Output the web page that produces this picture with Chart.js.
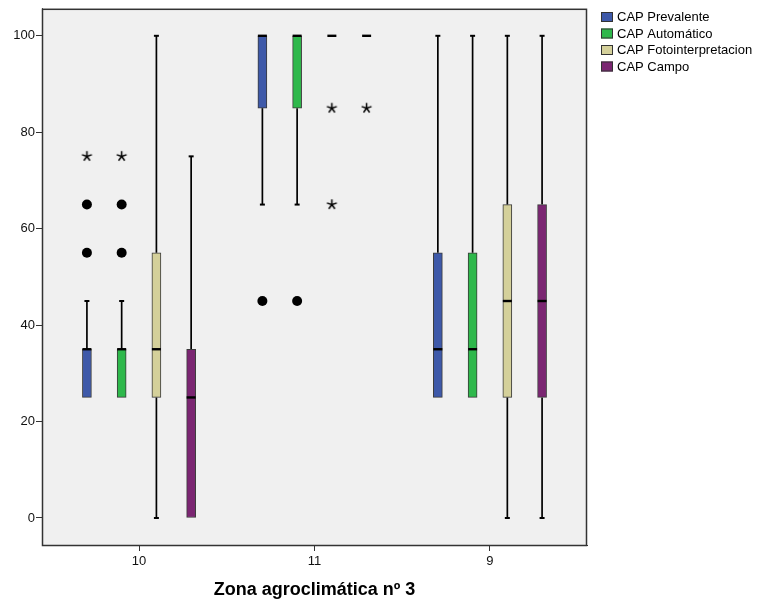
<!DOCTYPE html>
<html>
<head>
<meta charset="utf-8">
<script src="https://cdn.jsdelivr.net/npm/chart.js@4.4.0/dist/chart.umd.min.js"></script>
<style>
  html, body { margin: 0; padding: 0; background: #fff; }
</style>
</head>
<body>
<canvas id="chart" width="758" height="605"></canvas>
<script>
// zones on the x axis
const categories = ['10', '11', '9'];
const seriesNames = ['CAP Prevalente', 'CAP Automático', 'CAP Fotointerpretacion', 'CAP Campo'];
const seriesColors = ['#3E59A9', '#2EB84B', '#D4D09A', '#7B2672'];

// one row per series, one value per zone
const q1 = [[25, 85, 25], [25, 85, 25], [25, 100, 25], [0, 100, 25]];
const medians = [[35, 100, 35], [35, 100, 35], [35, 100, 45], [25, 100, 45]];
const q3 = [[35, 100, 55], [35, 100, 55], [55, 100, 65], [35, 100, 65]];
const whiskerLow = [[25, 65, 25], [25, 65, 25], [0, 100, 0], [0, 100, 0]];
const whiskerHigh = [[45, 100, 100], [45, 100, 100], [100, 100, 100], [75, 100, 100]];
// circles (outliers) and stars (extremes)
const outliers = [[[55, 65], [45], []], [[55, 65], [45], []], [[], [], []], [[], [], []]];
const extremes = [[[75], [], []], [[75], [], []], [[], [85, 65], []], [[], [85], []]];

const yTicks = [0, 20, 40, 60, 80, 100];
const offsets = [-0.297, -0.099, 0.099, 0.297];

// five-armed asterisk used by SPSS for extremes
function makeStar() {
  const c = document.createElement('canvas');
  c.width = 13; c.height = 13;
  const g = c.getContext('2d');
  g.strokeStyle = '#000';
  g.lineWidth = 1.5;
  g.beginPath();
  for (let k = 0; k < 5; k++) {
    const a = -Math.PI / 2 + k * 2 * Math.PI / 5;
    g.moveTo(6.5, 6.5);
    g.lineTo(6.5 + 5.2 * Math.cos(a), 6.5 + 5.2 * Math.sin(a));
  }
  g.stroke();
  return c;
}
const starImg = makeStar();

const datasets = [];
seriesNames.forEach((name, si) => {
  datasets.push({
    type: 'bar',
    label: name,
    data: categories.map((c, gi) => ({ x: gi + offsets[si], y: [q1[si][gi], q3[si][gi]] })),
    backgroundColor: seriesColors[si],
    borderColor: '#3a3a3a',
    borderWidth: 1,
    borderSkipped: false,
    barThickness: 9,
    grouped: false,
    order: 2
  });
});
seriesNames.forEach((name, si) => {
  const circ = [], stars = [];
  categories.forEach((c, gi) => {
    outliers[si][gi].forEach(v => circ.push({ x: gi + offsets[si], y: v }));
    extremes[si][gi].forEach(v => stars.push({ x: gi + offsets[si], y: v }));
  });
  datasets.push({
    type: 'scatter', label: name + ' out', data: circ,
    pointStyle: 'circle', pointRadius: 5, backgroundColor: '#000', borderWidth: 0, order: 1
  });
  datasets.push({
    type: 'scatter', label: name + ' ext', data: stars,
    pointStyle: starImg, pointRadius: 6, order: 1
  });
});

const frame = {
  id: 'frame',
  beforeDatasetsDraw(chart) {
    const { ctx, chartArea: a, scales: { x, y } } = chart;
    ctx.save();
    ctx.fillStyle = '#F0F0F0';
    ctx.fillRect(a.left, a.top, a.right - a.left, a.bottom - a.top);
    ctx.strokeStyle = '#333';
    ctx.lineWidth = 1.5;
    ctx.strokeRect(a.left + 0.5, a.top + 0.5, a.right - a.left - 1, a.bottom - a.top);
    // whiskers
    ctx.strokeStyle = '#000';
    seriesNames.forEach((n, si) => {
      categories.forEach((c, gi) => {
        const px = x.getPixelForValue(gi + offsets[si]);
        const segs = [[whiskerLow[si][gi], q1[si][gi]], [q3[si][gi], whiskerHigh[si][gi]]];
        segs.forEach(([lo, hi]) => {
          if (hi <= lo) return;
          ctx.lineWidth = 1.7;
          ctx.beginPath();
          ctx.moveTo(px, y.getPixelForValue(lo));
          ctx.lineTo(px, y.getPixelForValue(hi));
          ctx.stroke();
        });
        ctx.lineWidth = 2;
        [[whiskerLow[si][gi], q1[si][gi]], [whiskerHigh[si][gi], q3[si][gi]]].forEach(([w, q]) => {
          if (w === q) return;
          const py = y.getPixelForValue(w);
          ctx.beginPath();
          ctx.moveTo(px - 2.5, py);
          ctx.lineTo(px + 2.5, py);
          ctx.stroke();
        });
      });
    });
    ctx.restore();
  },
  afterDatasetsDraw(chart) {
    const { ctx, scales: { x, y } } = chart;
    ctx.save();
    ctx.strokeStyle = '#000';
    ctx.lineWidth = 2.4;
    seriesNames.forEach((n, si) => {
      categories.forEach((c, gi) => {
        const px = x.getPixelForValue(gi + offsets[si]);
        const py = y.getPixelForValue(medians[si][gi]);
        ctx.beginPath();
        ctx.moveTo(px - 4.5, py);
        ctx.lineTo(px + 4.5, py);
        ctx.stroke();
      });
    });
    // legend
    ctx.font = '13px "Liberation Sans", Arial, sans-serif';
    ctx.textBaseline = 'middle';
    seriesNames.forEach((n, si) => {
      const cy = 17 + si * 16.5;
      ctx.fillStyle = seriesColors[si];
      ctx.fillRect(601, cy - 5, 12, 10);
      ctx.strokeStyle = '#333';
      ctx.lineWidth = 1;
      ctx.strokeRect(601.5, cy - 4.5, 11, 9);
      ctx.fillStyle = '#000';
      ctx.fillText(n, 617, cy + 0.5);
    });
    ctx.restore();
  }
};

new Chart(document.getElementById('chart'), {
  type: 'bar',
  data: { datasets },
  options: {
    responsive: false,
    animation: false,
    layout: { padding: { top: 8, right: 171, left: 0, bottom: 0 } },
    plugins: { legend: { display: false }, tooltip: { enabled: false } },
    scales: {
      x: {
        type: 'linear',
        offset: false,
        min: -0.553,
        max: 2.553,
        afterBuildTicks: s => { s.ticks = categories.map((c, i) => ({ value: i })); },
        afterFit: s => { s.height = 60; },
        ticks: {
          callback: v => categories[v],
          color: '#111',
          font: { family: '"Liberation Sans", Arial, sans-serif', size: 13 },
          padding: 3,
          maxRotation: 0
        },
        grid: { offset: false, drawOnChartArea: false, tickLength: 6, color: '#333' },
        border: { color: '#333' },
        title: {
          display: true,
          text: 'Zona agroclimática nº 3',
          color: '#000',
          font: { family: '"Liberation Sans", Arial, sans-serif', size: 18, weight: 'bold' },
          padding: { top: 0, bottom: 4 }
        }
      },
      y: {
        min: -5.6,
        max: 105.6,
        afterBuildTicks: s => { s.ticks = yTicks.map(v => ({ value: v })); },
        afterFit: s => { s.width = 42; },
        ticks: {
          color: '#111',
          font: { family: '"Liberation Sans", Arial, sans-serif', size: 13 },
          padding: 1
        },
        grid: { drawOnChartArea: false, tickLength: 6, color: '#333' },
        border: { color: '#333' }
      }
    }
  },
  plugins: [frame]
});
</script>
</body>
</html>
